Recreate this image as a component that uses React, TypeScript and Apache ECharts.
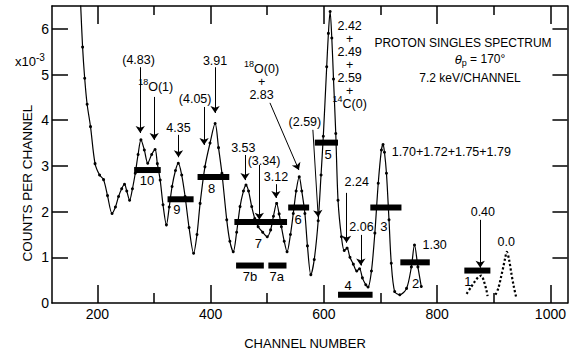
import React, { useEffect, useRef } from "react";
import * as echarts from "echarts";

// ---- data (channel, counts x1e-3) ----
const spectrum: [number, number][] = [
  [170, 6.7], [174, 5.6], [177.7, 4.92], [182, 4.35], [188, 3.86], [196, 3.05], [204, 2.8], [211, 2.7],
  [218, 2.35], [226, 1.96], [232, 2.1], [237.5, 2.33], [243, 2.5], [248, 2.6], [252, 2.45], [257, 2.25],
  [262, 2.5], [267, 2.84], [272, 3.25], [277, 3.57], [283, 3.35], [289, 3.06], [296, 3.25], [302, 3.36],
  [306, 3.05], [311, 2.69], [316, 2.15], [322, 1.71], [327, 2.1], [332, 2.55], [338, 2.9], [343, 3.06],
  [349, 2.8], [355, 2.33], [362, 1.65], [370, 1.09], [376, 1.5], [381.5, 2.18], [390, 2.98], [399, 3.5],
  [408, 3.93], [414, 3.4], [420, 2.84], [428.5, 1.82], [434, 1.35], [440, 1.12], [446, 1.55], [452, 2.11],
  [458, 2.45], [462.5, 2.58], [467, 2.45], [472.6, 2.11], [478, 1.85], [484, 1.67], [492, 1.55], [500, 1.45],
  [506, 1.6], [511, 1.9], [516.6, 2.18], [521, 1.95], [525, 1.67], [530, 1.35], [535, 1.12], [541, 1.5],
  [546, 1.96], [551, 2.45], [556.5, 2.76], [561, 2.45], [566.5, 1.96], [571, 1.25], [577, 0.62], [583, 0.95],
  [590, 1.8], [595, 2.8], [599, 3.65], [605, 5.17], [608, 5.9], [611, 6.38], [614, 5.8], [617, 4.9],
  [621, 3.71], [625, 2.25], [631, 1.45], [636, 1.15], [641, 1.2], [646, 1.0], [652, 0.85], [658, 0.7],
  [663, 0.75], [668, 0.55], [674, 0.4], [678, 0.35], [684, 0.7], [690, 1.53], [696, 2.62], [701.6, 3.35],
  [704.5, 3.47], [707, 3.3], [710.5, 2.84], [715, 1.82], [719, 0.87], [725, 0.25], [734, 0.18], [746, 0.32],
  [754.5, 0.79], [760, 1.27], [766, 0.79], [772, 0.36],
];
const peak1: [number, number][] = [
  [852, 0.2], [860, 0.35], [867, 0.48], [873, 0.57], [878, 0.6], [882, 0.5], [887, 0.28], [889, 0.15],
];
const peak0: [number, number][] = [
  [903, 0.18], [908, 0.32], [913, 0.58], [917, 0.8], [920, 0.98], [923, 1.12], [927, 0.95], [931, 0.65],
  [935, 0.38], [940, 0.1],
];

// resolution bars: group label, start channel, end channel, level
const barNames = ["10", "9", "8", "7", "7b", "7a", "6", "5", "4", "3", "2", "1"];
const barStarts = [265, 324, 377, 442, 445, 502, 537, 584, 625, 682, 735, 848];
const barEnds = [312, 370, 433, 535, 494, 534, 574, 625, 686, 737, 787, 894];
const barLevels = [2.91, 2.27, 2.76, 1.77, 0.82, 0.82, 2.09, 3.51, 0.18, 2.09, 0.89, 0.71];
const barLabelPos: [number, number][] = [
  [287.6, 2.69], [340.4, 2.04], [402, 2.51], [484.2, 1.31], [469.6, 0.58], [516.6, 0.58],
  [554.7, 1.82], [607.6, 3.24], [642.8, 0.39], [705.7, 1.68], [762.1, 0.43], [854.3, 0.47],
];

// level annotations: text, channel, count
const annTexts = [
  "(4.83)", "{sup|18}O(1)", "(4.05)", "4.35", "3.91", "3.53", "(3.34)", "3.12",
  "{sup|18}O(0)\n+\n2.83", "(2.59)", "2.42\n+\n2.49\n+\n2.59\n+\n{sup|14}C(0)",
  "2.24", "2.06", "1.70+1.72+1.75+1.79", "1.30", "0.40", "0.0",
];
const annChannels = [
  272.8, 303, 372.7, 343.3, 407.9, 457.8, 494.3, 515.4,
  490, 566.5, 645.5,
  658.1, 666.4, 825, 795.6, 880.7, 922,
];
const annCounts = [
  5.32, 4.73, 4.46, 3.83, 5.3, 3.4, 3.11, 2.76,
  4.83, 3.97, 5.2,
  2.65, 1.67, 3.3, 1.27, 2.0, 1.34,
];

// arrows: [x1, y1, x2, y2]
const arrows: [number, number, number, number][] = [
  [275.8, 5.16, 275.8, 3.72], [300.4, 4.51, 300.4, 3.57], [388.5, 4.29, 388.5, 3.46],
  [343.3, 3.68, 343.3, 3.19], [407.9, 5.16, 407.9, 4.16], [460.8, 3.24, 460.8, 2.69],
  [486, 3.02, 486, 1.82], [515.4, 2.6, 515.4, 2.3], [504.8, 4.38, 555.9, 2.91],
  [580.6, 3.79, 590, 1.88], [640, 2.41, 640, 1.32], [665.2, 1.49, 665.2, 0.82],
  [876, 1.82, 876, 0.77],
];

const X_MIN = 120;
const X_MAX = 1030;
const Y_MIN = 0;
const Y_MAX = 6.5;
const xMajorTicks = [200, 400, 600, 800, 1000];
const xMinorTicks = [300, 500, 700, 900];
const yTicks = [0, 1, 2, 3, 4, 5, 6];

const FONT = "Liberation Sans";
const INK = "#000000";

export default function App() {
  const ref = useRef<HTMLDivElement>(null);
  useEffect(() => {
    if (!ref.current) return;
    const chart = echarts.init(ref.current, undefined, { renderer: "svg" });
    const axisLine = { show: true, onZero: false, lineStyle: { color: INK, width: 1.5 } };
    const plotW = 516;
    const plotH = 297;
    const xPerPx = (X_MAX - X_MIN) / plotW;
    const yPerPx = (Y_MAX - Y_MIN) / plotH;
    const tick = (x1: number, y1: number, x2: number, y2: number) => [
      { coord: [x1, y1] },
      { coord: [x2, y2] },
    ];
    const tickData: any[] = [];
    xMajorTicks.forEach((x) => {
      tickData.push(tick(x, Y_MIN, x, Y_MIN + 18 * yPerPx));
      tickData.push(tick(x, Y_MAX, x, Y_MAX - 18 * yPerPx));
    });
    xMinorTicks.forEach((x) => {
      tickData.push(tick(x, Y_MIN, x, Y_MIN + 10 * yPerPx));
      tickData.push(tick(x, Y_MAX, x, Y_MAX - 9 * yPerPx));
    });
    yTicks.slice(1).forEach((y) => {
      tickData.push(tick(X_MIN, y, X_MIN + 16 * xPerPx, y));
      tickData.push(tick(X_MAX, y, X_MAX - 15 * xPerPx, y));
    });

    const sup = { fontSize: 9, fontFamily: FONT, fill: INK, verticalAlign: "bottom", padding: [0, 0, 7, 0], lineHeight: 13 };
    const series: any[] = [
      {
        type: "line",
        data: spectrum,
        smooth: 0.3,
        showSymbol: true,
        showAllSymbol: true,
        symbol: "circle",
        symbolSize: 3,
        itemStyle: { color: INK },
        lineStyle: { color: INK, width: 1.2 },
        z: 3,
        markLine: {
          silent: true,
          symbol: ["none", "arrow"],
          symbolSize: 7,
          label: { show: false },
          lineStyle: { color: INK, width: 1, type: "solid", opacity: 1 },
          data: arrows.map((a) => [{ coord: [a[0], a[1]] }, { coord: [a[2], a[3]] }]),
        },
      },
      {
        type: "line",
        data: peak1,
        smooth: 0.3,
        showSymbol: false,
        lineStyle: { color: INK, width: 2.2, type: "dotted" },
        markLine: {
          silent: true,
          symbol: ["none", "none"],
          label: { show: false },
          lineStyle: { color: INK, width: 1.5, type: "solid", opacity: 1 },
          data: tickData,
        },
      },
      {
        type: "line",
        data: peak0,
        smooth: 0.3,
        showSymbol: false,
        lineStyle: { color: INK, width: 2.2, type: "dotted" },
      },
    ];
    barNames.forEach((n, i) => {
      series.push({
        type: "line",
        name: "bar" + n,
        data: [[barStarts[i], barLevels[i]], [barEnds[i], barLevels[i]]],
        showSymbol: false,
        lineStyle: { color: INK, width: 6, cap: "butt" },
        z: 4,
      });
    });
    const textSeries = (points: [number, number][], texts: string[], fontSize: number) => ({
      type: "custom",
      coordinateSystem: "cartesian2d",
      silent: true,
      z: 6,
      data: points,
      renderItem: (params: any, api: any) => {
        const p = api.coord([api.value(0), api.value(1)]);
        return {
          type: "text",
          x: p[0],
          y: p[1],
          style: {
            text: texts[params.dataIndex],
            fontFamily: FONT,
            fontSize,
            lineHeight: 13,
            fill: INK,
            align: "center",
            verticalAlign: "middle",
            rich: { sup },
          },
        };
      },
    });
    series.push(textSeries(barLabelPos, barNames, 13));
    series.push(
      textSeries(
        annChannels.map((c, i) => [c, annCounts[i]] as [number, number]),
        annTexts,
        12.5
      )
    );

    const xBase = { type: "value", min: X_MIN, max: X_MAX, splitLine: { show: false }, axisLine, axisTick: { show: false } };
    chart.setOption({
      animation: false,
      backgroundColor: "#fff",
      grid: { left: 52, top: 6, right: 1, bottom: 51, containLabel: false },
      xAxis: [
        {
          ...xBase,
          position: "bottom",
          axisLabel: {
            show: true,
            customValues: xMajorTicks,
            formatter: (v: number) => String(v),
            margin: 4,
            fontSize: 14,
            fontFamily: FONT,
            color: INK,
          },
        },
        { ...xBase, position: "top", axisLabel: { show: false } },
      ],
      yAxis: [
        {
          type: "value",
          min: Y_MIN,
          max: Y_MAX,
          position: "left",
          splitLine: { show: false },
          axisLine,
          axisTick: { show: false },
          axisLabel: { show: true, customValues: yTicks, margin: 3, fontSize: 14, fontFamily: FONT, color: INK },
        },
        {
          type: "value",
          min: Y_MIN,
          max: Y_MAX,
          position: "right",
          splitLine: { show: false },
          axisLine,
          axisTick: { show: false },
          axisLabel: { show: false },
        },
      ],
      graphic: [
        {
          type: "text",
          x: 463,
          y: 43,
          style: { text: "PROTON SINGLES SPECTRUM", font: `12px "${FONT}"`, fill: INK, align: "center", verticalAlign: "middle" },
        },
        {
          type: "text",
          x: 480,
          y: 59,
          style: {
            text: "{it|θ}{sub|p} = 170°",
            font: `12px "${FONT}"`,
            fill: INK,
            align: "center",
            verticalAlign: "middle",
            rich: {
              it: { fontStyle: "italic", fontSize: 13, fontFamily: FONT, fill: INK },
              sub: { fontSize: 9, fontFamily: FONT, fill: INK, padding: [8, 0, 0, 0] },
            },
          },
        },
        {
          type: "text",
          x: 470,
          y: 78,
          style: { text: "7.2 keV/CHANNEL", font: `12px "${FONT}"`, fill: INK, align: "center", verticalAlign: "middle" },
        },
        {
          type: "text",
          x: 30,
          y: 61,
          style: {
            text: "x10{sup|-3}",
            font: `13px "${FONT}"`,
            fill: INK,
            align: "center",
            verticalAlign: "middle",
            rich: { sup: { fontSize: 10, fontFamily: FONT, fill: INK, padding: [0, 0, 8, 0] } },
          },
        },
        {
          type: "text",
          x: 27,
          y: 183,
          rotation: Math.PI / 2,
          style: { text: "COUNTS PER CHANNEL", font: `13.5px "${FONT}"`, fill: INK, align: "center", verticalAlign: "middle" },
        },
        {
          type: "text",
          x: 305,
          y: 343,
          style: { text: "CHANNEL NUMBER", font: `13px "${FONT}"`, fill: INK, align: "center", verticalAlign: "middle" },
        },
      ],
      series,
    });
    return () => chart.dispose();
  }, []);
  return <div ref={ref} style={{ position: "fixed", left: 0, top: 0, width: 569, height: 354, background: "#fff" }} />;
}
